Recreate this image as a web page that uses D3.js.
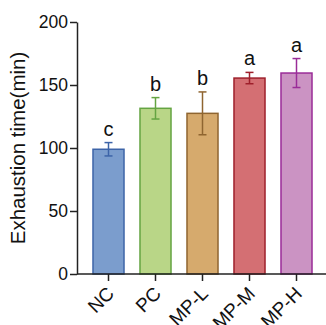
<!DOCTYPE html>
<html>
<head>
<meta charset="utf-8">
<script src="https://cdn.jsdelivr.net/npm/d3@7"></script>
<style>
  body { margin: 0; background: #fff; }
  text { font-family: Arial, "Liberation Sans", sans-serif; }
</style>
</head>
<body>
<script>
// exhaustion time per group
var groups = ['NC', 'PC', 'MP-L', 'MP-M', 'MP-H'];
var means = [99, 131.5, 127.5, 155.5, 159.5];
var errs = [5.3, 8.5, 17, 4.5, 11.5];
var letters = ['c', 'b', 'b', 'a', 'a'];
var fills = ['#7b9dcd', '#b9d687', '#d6aa6d', '#d46f73', '#cb93c3'];
var strokes = ['#3d64a8', '#64a442', '#8f6530', '#9e1f2b', '#9a2c98'];
var yTicks = [0, 50, 100, 150, 200];

var svgWidth = 326;
let svgHeight = 325;

var svg = d3.select('body').append('svg')
  .attr('width', svgWidth)
  .attr('height', svgHeight);

var x = d3.scaleBand()
  .domain(groups)
  .range([85, 320])
  .paddingInner(0.34)
  .paddingOuter(0.17);

var y = d3.scaleLinear()
  .domain([0, 200])
  .range([274, 22]);

// bars
svg.selectAll('.bar')
  .data(groups)
  .enter()
  .append('rect')
  .attr('class', 'bar')
  .attr('x', function(d) { return x(d); })
  .attr('y', function(d, i) { return y(means[i]); })
  .attr('width', x.bandwidth())
  .attr('height', function(d, i) { return y(0) - y(means[i]); })
  .style('fill', function(d, i) { return fills[i]; })
  .style('stroke', function(d, i) { return strokes[i]; })
  .style('stroke-width', 1.5);

// error bars
var cx = function(d) { return x(d) + x.bandwidth() / 2; };
var eb = svg.selectAll('.err')
  .data(groups)
  .enter()
  .append('g')
  .attr('class', 'err')
  .style('stroke', function(d, i) { return strokes[i]; })
  .style('stroke-width', 1.5);

eb.append('line')
  .attr('x1', cx).attr('x2', cx)
  .attr('y1', function(d, i) { return y(means[i] + errs[i]); })
  .attr('y2', function(d, i) { return y(means[i] - errs[i]); });
eb.append('line')
  .attr('x1', function(d) { return cx(d) - 4; })
  .attr('x2', function(d) { return cx(d) + 4; })
  .attr('y1', function(d, i) { return y(means[i] + errs[i]); })
  .attr('y2', function(d, i) { return y(means[i] + errs[i]); });
eb.append('line')
  .attr('x1', function(d) { return cx(d) - 4; })
  .attr('x2', function(d) { return cx(d) + 4; })
  .attr('y1', function(d, i) { return y(means[i] - errs[i]); })
  .attr('y2', function(d, i) { return y(means[i] - errs[i]); });

// significance letters
svg.selectAll('.sig')
  .data(groups)
  .enter()
  .append('text')
  .attr('class', 'sig')
  .attr('x', cx)
  .attr('y', function(d, i) { return y(means[i] + errs[i]) - 7; })
  .attr('text-anchor', 'middle')
  .style('font-size', '20px')
  .style('fill', '#111')
  .text(function(d, i) { return letters[i]; });

// axes
var yAxis = svg.append('g')
  .attr('transform', 'translate(77,0)')
  .call(d3.axisLeft(y).tickValues(yTicks).tickSize(7).tickSizeOuter(0));
yAxis.select('.domain').style('stroke', '#222').style('stroke-width', 1.5);
yAxis.selectAll('line').style('stroke', '#222').style('stroke-width', 1.5);
yAxis.selectAll('text')
  .style('font-size', '17.5px')
  .style('fill', '#111')
  .attr('x', -9);

var xAxis = svg.append('g')
  .attr('transform', 'translate(0,274)')
  .call(d3.axisBottom(x).tickSize(7).tickSizeOuter(0));
xAxis.select('.domain')
  .attr('d', 'M77,0H326')
  .style('stroke', '#222').style('stroke-width', 1.5);
xAxis.selectAll('line').style('stroke', '#222').style('stroke-width', 1.5);
xAxis.selectAll('text')
  .style('font-size', '19px')
  .style('fill', '#111')
  .attr('text-anchor', 'end')
  .attr('dy', '0.35em')
  .attr('transform', 'translate(2,16) rotate(-45)')
  .attr('x', 0).attr('y', 0);

// y label
svg.append('text')
  .attr('transform', 'translate(25,148) rotate(-90)')
  .attr('text-anchor', 'middle')
  .style('font-size', '20.5px')
  .style('fill', '#111')
  .text('Exhaustion time(min)');
</script>
</body>
</html>
